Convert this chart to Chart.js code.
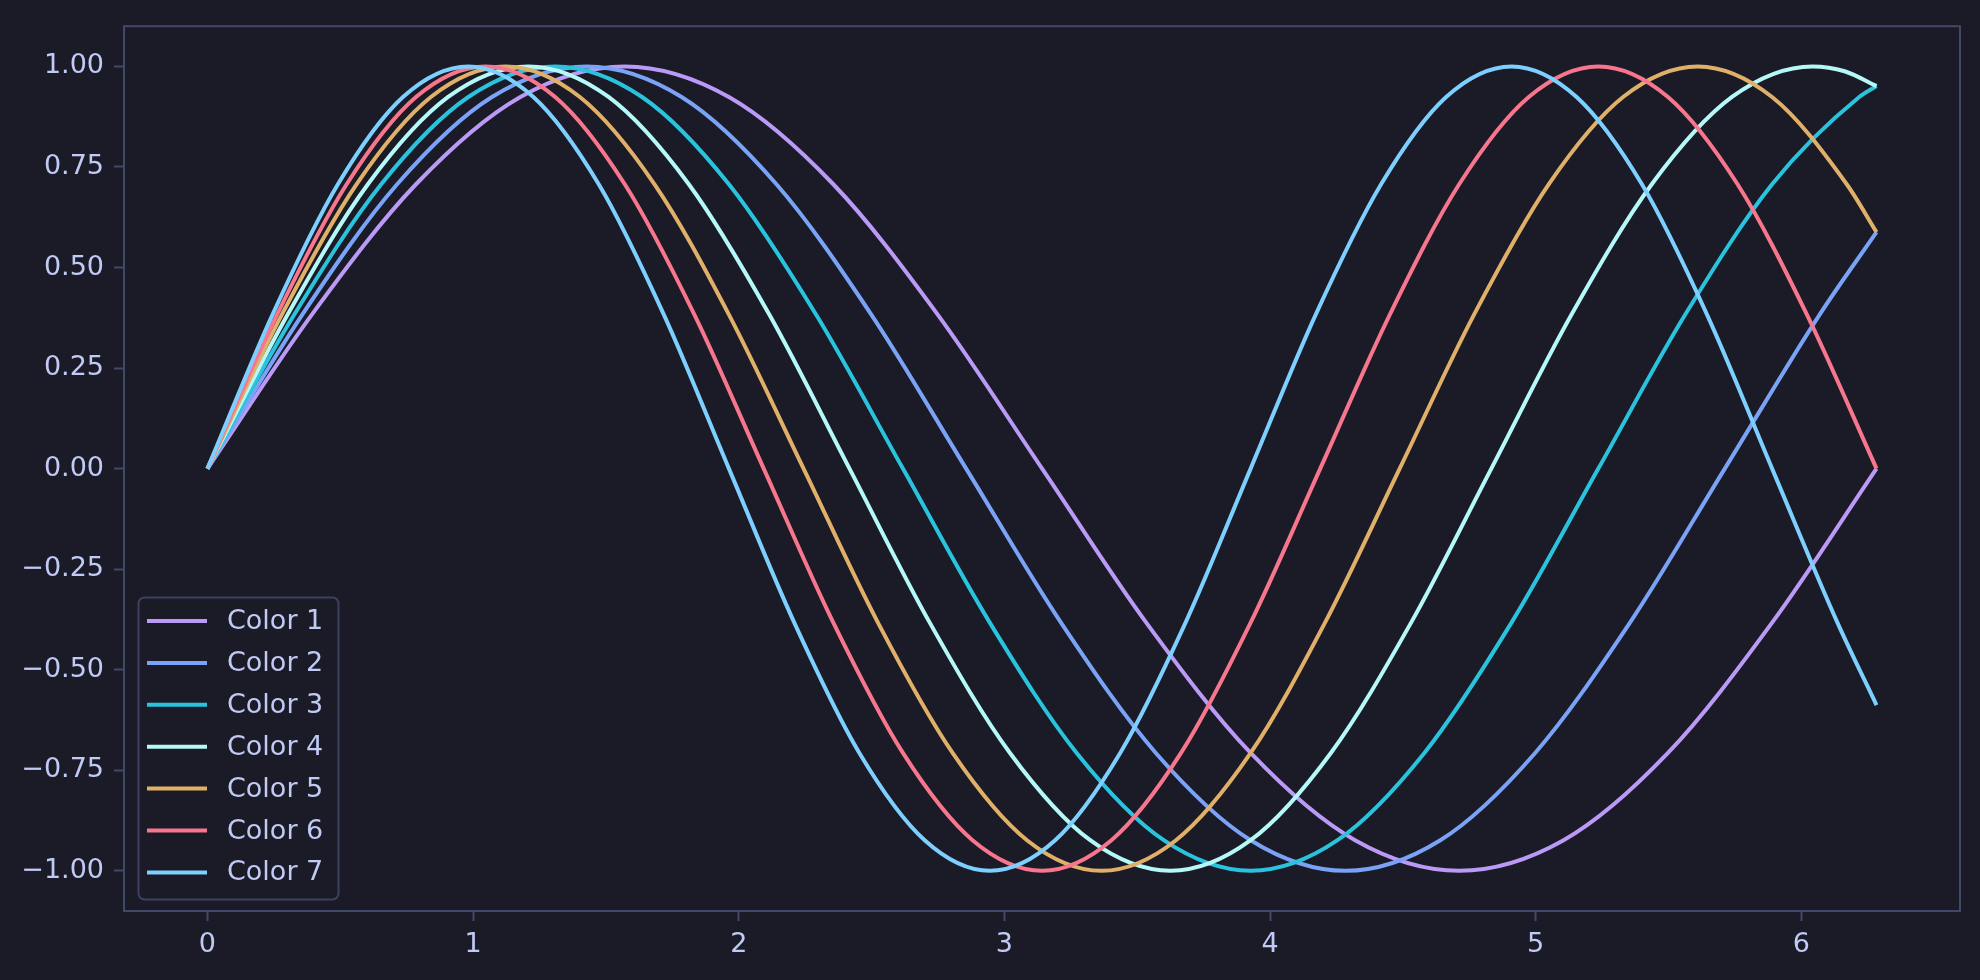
<!DOCTYPE html>
<html>
<head>
<meta charset="utf-8">
<script src="https://cdn.jsdelivr.net/npm/chart.js@4.4.1/dist/chart.umd.min.js"></script>
<style>
  html, body { margin: 0; padding: 0; background: #1a1b26; }
  #wrap { width: 1980px; height: 980px; }
</style>
</head>
<body>
<div id="wrap"><canvas id="chart" width="1980" height="980"></canvas></div>
<script>
// values, one x/y pair of arrays per curve
const labels = ["Color 1", "Color 2", "Color 3", "Color 4", "Color 5", "Color 6", "Color 7"];
const colors = ["#bb9af7", "#7aa2f7", "#2ac3de", "#b4f9f8", "#e0af68", "#f7768e", "#7dcfff"];

const x1 = [0, 0.393, 0.785, 1.178, 1.571, 1.963, 2.356, 2.749, 3.142, 3.534, 3.927, 4.320, 4.712, 5.105, 5.498, 5.890, 6.283];
const y1 = [0, 0.383, 0.707, 0.924, 1, 0.924, 0.707, 0.383, 0, -0.383, -0.707, -0.924, -1, -0.924, -0.707, -0.383, 0];

const x2 = [0, 0.357, 0.714, 1.071, 1.428, 1.785, 2.142, 2.499, 2.856, 3.213, 3.570, 3.927, 4.284, 4.641, 4.998, 5.355, 5.712, 6.069, 6.283];
const y2 = [0, 0.383, 0.707, 0.924, 1, 0.924, 0.707, 0.383, 0, -0.383, -0.707, -0.924, -1, -0.924, -0.707, -0.383, 0, 0.383, 0.588];

const x3 = [0, 0.327, 0.654, 0.982, 1.309, 1.636, 1.963, 2.291, 2.618, 2.945, 3.272, 3.600, 3.927, 4.254, 4.581, 4.909, 5.236, 5.563, 5.890, 6.218, 6.283];
const y3 = [0, 0.383, 0.707, 0.924, 1, 0.924, 0.707, 0.383, 0, -0.383, -0.707, -0.924, -1, -0.924, -0.707, -0.383, 0, 0.383, 0.707, 0.924, 0.951];

const x4 = [0, 0.302, 0.604, 0.906, 1.208, 1.510, 1.812, 2.115, 2.417, 2.719, 3.021, 3.323, 3.625, 3.927, 4.229, 4.531, 4.833, 5.135, 5.437, 5.739, 6.042, 6.163, 6.283];
const y4 = [0, 0.383, 0.707, 0.924, 1, 0.924, 0.707, 0.383, 0, -0.383, -0.707, -0.924, -1, -0.924, -0.707, -0.383, 0, 0.383, 0.707, 0.924, 1, 0.988, 0.951];

const x5 = [0, 0.280, 0.561, 0.841, 1.122, 1.402, 1.683, 1.963, 2.244, 2.524, 2.805, 3.085, 3.366, 3.646, 3.927, 4.207, 4.488, 4.768, 5.049, 5.329, 5.610, 5.890, 6.171, 6.283];
const y5 = [0, 0.383, 0.707, 0.924, 1, 0.924, 0.707, 0.383, 0, -0.383, -0.707, -0.924, -1, -0.924, -0.707, -0.383, 0, 0.383, 0.707, 0.924, 1, 0.924, 0.707, 0.588];

const x6 = [0, 0.262, 0.524, 0.785, 1.047, 1.309, 1.571, 1.833, 2.094, 2.356, 2.618, 2.880, 3.142, 3.403, 3.665, 3.927, 4.189, 4.451, 4.712, 4.974, 5.236, 5.498, 5.760, 6.021, 6.283];
const y6 = [0, 0.383, 0.707, 0.924, 1, 0.924, 0.707, 0.383, 0, -0.383, -0.707, -0.924, -1, -0.924, -0.707, -0.383, 0, 0.383, 0.707, 0.924, 1, 0.924, 0.707, 0.383, 0];

const x7 = [0, 0.245, 0.491, 0.736, 0.982, 1.227, 1.473, 1.718, 1.963, 2.209, 2.454, 2.700, 2.945, 3.191, 3.436, 3.682, 3.927, 4.172, 4.418, 4.663, 4.909, 5.154, 5.400, 5.645, 5.890, 6.136, 6.283];
const y7 = [0, 0.383, 0.707, 0.924, 1, 0.924, 0.707, 0.383, 0, -0.383, -0.707, -0.924, -1, -0.924, -0.707, -0.383, 0, 0.383, 0.707, 0.924, 1, 0.924, 0.707, 0.383, 0, -0.383, -0.588];

const xs = [x1, x2, x3, x4, x5, x6, x7];
const ys = [y1, y2, y3, y4, y5, y6, y7];

const BG = "#1a1b26";
const FG = "#c0caf5";
const FRAME = "#414868";
const FONT = "DejaVu Sans";

const minus = (s) => s.replace("-", "\u2212");

// box around the plot area (all four sides)
const framePlugin = {
  id: "frame",
  beforeDatasetsDraw(chart) {
    const { ctx, chartArea: a } = chart;
    ctx.save();
    ctx.strokeStyle = FRAME;
    ctx.lineWidth = 2;
    ctx.strokeRect(a.left, a.top, a.right - a.left, a.bottom - a.top);
    ctx.restore();
  }
};

// legend box in the lower left corner
const legendBox = {
  id: "legendBox",
  afterDraw(chart) {
    const ctx = chart.ctx;
    const left = 138, top = 597, w = 200, h = 302;
    ctx.save();
    ctx.beginPath();
    ctx.roundRect(left + 0.5, top + 0.5, w, h, 6);
    ctx.fillStyle = BG;
    ctx.fill();
    ctx.strokeStyle = "#3b4261";
    ctx.lineWidth = 2;
    ctx.stroke();
    ctx.font = "27px '" + FONT + "'";
    ctx.textBaseline = "middle";
    ctx.fillStyle = FG;
    chart.data.datasets.forEach((ds, i) => {
      const y = 621 + i * 41.9;
      ctx.strokeStyle = ds.borderColor;
      ctx.lineWidth = 4;
      ctx.beginPath();
      ctx.moveTo(147, y);
      ctx.lineTo(207, y);
      ctx.stroke();
      ctx.fillText(ds.label, 227, y + 1);
    });
    ctx.restore();
  }
};

const datasets = labels.map((label, i) => ({
  label,
  data: xs[i].map((x, j) => ({ x, y: ys[i][j] })),
  borderColor: colors[i],
  borderWidth: 4,
  pointRadius: 0,
  fill: false,
  cubicInterpolationMode: "monotone",
  order: labels.length - i
}));

new Chart(document.getElementById("chart"), {
  type: "line",
  data: { datasets },
  options: {
    responsive: false,
    animation: false,
    layout: { padding: { left: 0, top: 20, right: 20, bottom: 0 } },
    plugins: { legend: { display: false }, tooltip: { enabled: false } },
    scales: {
      x: {
        type: "linear",
        min: -0.31416,
        max: 6.59734,
        border: { display: false },
        grid: { drawOnChartArea: false, drawTicks: true, tickLength: 10, tickWidth: 2, tickColor: FRAME },
        ticks: {
          stepSize: 1,
          includeBounds: false,
          color: FG,
          padding: 8,
          maxRotation: 0,
          font: { family: FONT, size: 27 },
          callback: (v) => minus(String(v))
        },
        afterFit: (s) => { s.height = 69; }
      },
      y: {
        type: "linear",
        min: -1.1,
        max: 1.1,
        border: { display: false },
        grid: { drawOnChartArea: false, drawTicks: true, tickLength: 10, tickWidth: 2, tickColor: FRAME },
        ticks: {
          stepSize: 0.25,
          includeBounds: false,
          color: FG,
          padding: 10,
          font: { family: FONT, size: 27 },
          callback: (v) => minus(v.toFixed(2))
        },
        afterFit: (s) => { s.width = 124; }
      }
    }
  },
  plugins: [framePlugin, legendBox]
});
</script>
</body>
</html>
